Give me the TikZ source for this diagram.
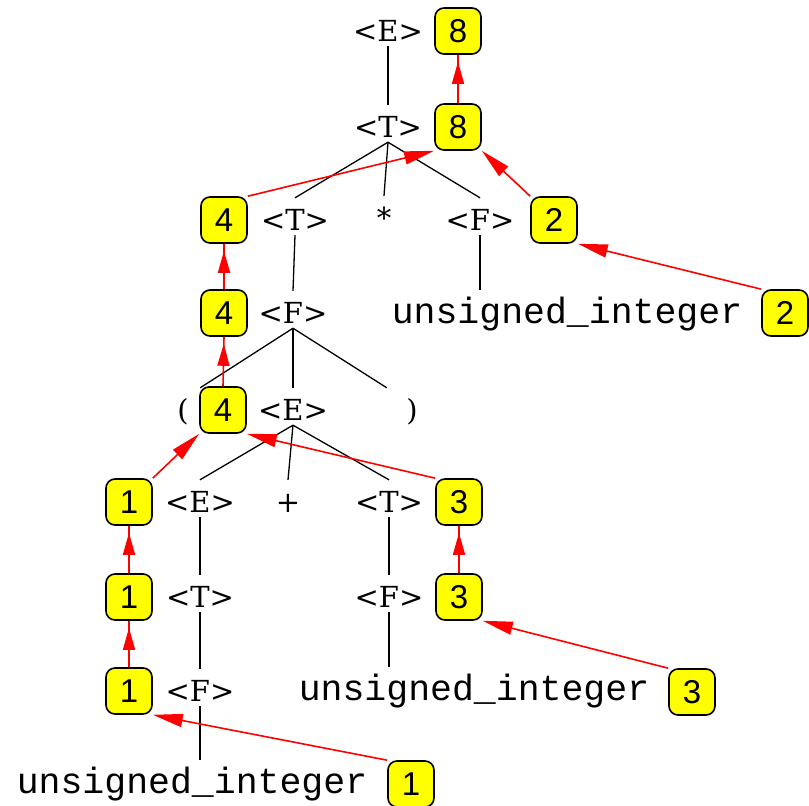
\documentclass[tikz,border=0pt]{standalone}
\usepackage{fontspec}
\usetikzlibrary{arrows.meta,decorations.markings}
\newfontfamily\symfont{DejaVu Serif}
\newfontfamily\numfont{Liberation Sans}
\newfontfamily\codefont{Liberation Mono}
\definecolor{boxyellow}{RGB}{255,255,0}
\tikzset{
  sym/.style={anchor=base, inner sep=0pt, text height=32pt, text depth=5pt,
              font=\symfont\fontsize{29pt}{32pt}\selectfont},
  code/.style={anchor=base, inner sep=0pt, text height=33pt, text depth=5pt,
              font=\codefont\fontsize{36.5pt}{40pt}\selectfont},
  valbox/.style={draw=black, line width=1.6pt, fill=boxyellow, rounded corners=9pt,
              minimum width=46pt, minimum height=46pt, inner sep=0pt,
              font=\numfont\fontsize{33pt}{36pt}\selectfont},
  edge/.style={black, line width=1.3pt},
  upflow/.style={red, line width=1.6pt, postaction={decorate},
              decoration={markings, mark=at position -7pt with {\arrow{Triangle[length=22pt,width=12pt]}}}},
  flow/.style={red, line width=1.6pt, -{Triangle[length=30pt,width=13pt]}},
}
\begin{document}
\begin{tikzpicture}[x=1pt,y=-1pt]
\useasboundingbox (0,0) rectangle (809,806);

% grammar symbols (baselines 10 below row centres)
\node[sym] (E0) at (388,41) {<E>};
\node[sym] (T0) at (388,137) {<T>};
\node[sym] (T1) at (295,230) {<T>};
\node[sym] (star) at (384,228) {*};
\node[sym] (F1) at (480,230) {<F>};
\node[sym] (F2) at (293,323) {<F>};
\node[code] (ui1) at (567,323) {unsigned\_integer};
\node[sym, minimum width=34pt] (lp) at (183,420) {(};
\node[sym] (E1) at (293,420) {<E>};
\node[sym, minimum width=50pt] (rp) at (412,420) {)};
\node[sym] (E2) at (200,512) {<E>};
\node[sym] (plus) at (288,512) {+};
\node[sym] (T2) at (389,512) {<T>};
\node[sym] (T3) at (200,607) {<T>};
\node[sym] (F3) at (389,607) {<F>};
\node[sym] (F4) at (200,701) {<F>};
\node[code] (ui2) at (474,700) {unsigned\_integer};
\node[code] (ui3) at (192,793) {unsigned\_integer};

% attribute values
\node[valbox] (v8a) at (458,31) {8};
\node[valbox] (v8b) at (458,127) {8};
\node[valbox] (v4a) at (224,220) {4};
\node[valbox] (v2a) at (554,220) {2};
\node[valbox] (v4b) at (224,313) {4};
\node[valbox] (v2b) at (785,313) {2};
\node[valbox] (v4c) at (223,410) {4};
\node[valbox] (v1a) at (129,502) {1};
\node[valbox] (v3a) at (459,502) {3};
\node[valbox] (v1b) at (129,597) {1};
\node[valbox] (v3b) at (459,597) {3};
\node[valbox] (v1c) at (129,691) {1};
\node[valbox] (v3c) at (692,692) {3};
\node[valbox] (v1d) at (411,784) {1};

% parse tree edges
\draw[edge] (E0.south) -- (T0.north);
\draw[edge] (T0.south) -- (T1.north);
\draw[edge] (T0.south) -- (star.north);
\draw[edge] (T0.south) -- (F1.north);
\draw[edge] (T1.south) -- (F2.north);
\draw[edge] (F1.south) -- (F1.south |- ui1.north);
\draw[edge] (F2.south) -- (lp.north east);
\draw[edge] (F2.south) -- (E1.north);
\draw[edge] (F2.south) -- (rp.north west);
\draw[edge] (E1.south) -- (E2.north);
\draw[edge] (E1.south) -- (plus.north);
\draw[edge] (E1.south) -- (T2.north);
\draw[edge] (E2.south) -- (T3.north);
\draw[edge] (T3.south) -- (F4.north);
\draw[edge] (F4.south) -- (F4.south |- ui3.north);
\draw[edge] (T2.south) -- (F3.north);
\draw[edge] (F3.south) -- (F3.south |- ui2.north);

% value propagation
\draw[upflow] (v8b.north) -- (v8a.south);
\draw[upflow] (v4b.north) -- (v4a.south);
\draw[upflow] (v4c.north) -- (v4b.south);
\draw[upflow] (v1b.north) -- (v1a.south);
\draw[upflow] (v1c.north) -- (v1b.south);
\draw[upflow] (v3b.north) -- (v3a.south);
\draw[flow] (v4a.north east) -- (v8b.south west);
\draw[flow] (v2a.north west) -- (v8b.south east);
\draw[flow] (v2b.north west) -- (v2a.south east);
\draw[flow] (v3a.north west) -- (v4c.south east);
\draw[flow] (v1a.north east) -- (v4c.south west);
\draw[flow] (v3c.north west) -- (v3b.south east);
\draw[flow] (v1d.north west) -- (v1c.south east);
\end{tikzpicture}
\end{document}
